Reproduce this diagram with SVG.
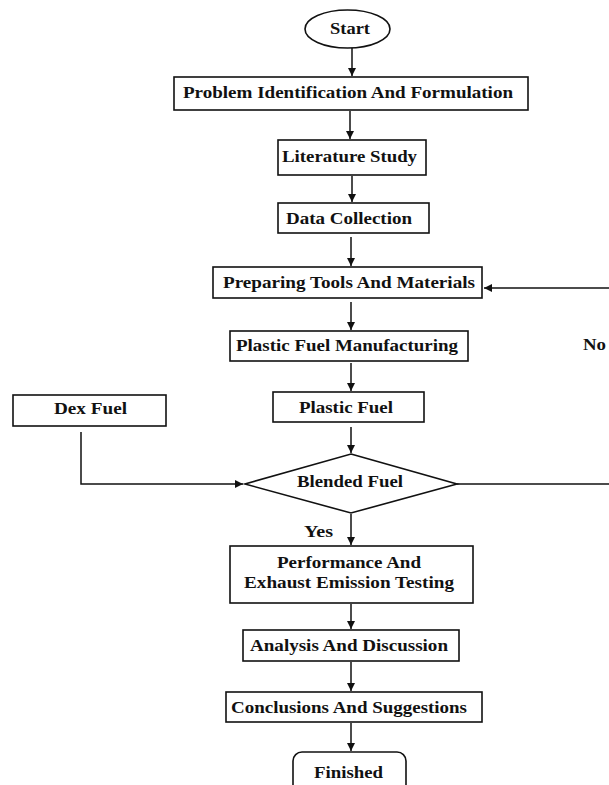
<svg xmlns="http://www.w3.org/2000/svg" width="609" height="785" viewBox="0 0 609 785">
<style>
.n{fill:#fff;stroke:#111;stroke-width:1.6}
.t{font-family:"Liberation Serif","Times New Roman",serif;font-weight:bold;font-size:16px;fill:#111;text-anchor:middle}
.c{fill:none;stroke:#111;stroke-width:1.5}
</style>
<defs>
<marker id="ah" viewBox="0 0 10 10" refX="10" refY="5" markerWidth="8" markerHeight="8" markerUnits="userSpaceOnUse" orient="auto">
<path d="M0,0 L10,5 L0,10 z" fill="#111"/>
</marker>
</defs>
<rect width="609" height="785" fill="#fff"/>
<g id="connectors">
<line class="c" x1="352" y1="48" x2="352" y2="76" marker-end="url(#ah)"/>
<line class="c" x1="350" y1="111" x2="350" y2="139" marker-end="url(#ah)"/>
<line class="c" x1="352" y1="176" x2="352" y2="202" marker-end="url(#ah)"/>
<line class="c" x1="351" y1="237" x2="351" y2="266" marker-end="url(#ah)"/>
<line class="c" x1="609" y1="288" x2="484" y2="288" marker-end="url(#ah)"/>
<line class="c" x1="351" y1="302" x2="351" y2="330" marker-end="url(#ah)"/>
<line class="c" x1="351" y1="363" x2="351" y2="391" marker-end="url(#ah)"/>
<line class="c" x1="351" y1="427" x2="351" y2="453" marker-end="url(#ah)"/>
<polyline class="c" points="81,432 81,484 243,484" marker-end="url(#ah)"/>
<line class="c" x1="457" y1="484" x2="609" y2="484"/>
<line class="c" x1="351" y1="514" x2="351" y2="545" marker-end="url(#ah)"/>
<line class="c" x1="351" y1="604" x2="351" y2="629" marker-end="url(#ah)"/>
<line class="c" x1="351" y1="662" x2="351" y2="691" marker-end="url(#ah)"/>
<line class="c" x1="351" y1="723" x2="351" y2="751" marker-end="url(#ah)"/>
<text class="t" x="594.5" y="350" textLength="23" lengthAdjust="spacingAndGlyphs">No</text>
<text class="t" x="318.5" y="537" textLength="29" lengthAdjust="spacingAndGlyphs">Yes</text>
</g>
<g id="start">
<ellipse class="n" cx="347.5" cy="29" rx="42.5" ry="19"/>
<text class="t" x="350" y="34" textLength="40" lengthAdjust="spacingAndGlyphs">Start</text>
</g>
<g id="problem">
<rect class="n" x="174" y="77" width="354" height="33"/>
<text class="t" x="348" y="98" textLength="330" lengthAdjust="spacingAndGlyphs">Problem Identification And Formulation</text>
</g>
<g id="literature">
<rect class="n" x="278" y="140" width="148" height="35"/>
<text class="t" x="349.5" y="162" textLength="135" lengthAdjust="spacingAndGlyphs">Literature Study</text>
</g>
<g id="data">
<rect class="n" x="278" y="203" width="151" height="30"/>
<text class="t" x="349" y="224" textLength="126" lengthAdjust="spacingAndGlyphs">Data Collection</text>
</g>
<g id="preparing">
<rect class="n" x="213" y="267" width="269" height="31"/>
<text class="t" x="349" y="288" textLength="252" lengthAdjust="spacingAndGlyphs">Preparing Tools And Materials</text>
</g>
<g id="manufacturing">
<rect class="n" x="230" y="331" width="238" height="30"/>
<text class="t" x="347" y="351" textLength="222" lengthAdjust="spacingAndGlyphs">Plastic Fuel Manufacturing</text>
</g>
<g id="plasticfuel">
<rect class="n" x="273" y="392" width="151" height="30"/>
<text class="t" x="346" y="413" textLength="94" lengthAdjust="spacingAndGlyphs">Plastic Fuel</text>
</g>
<g id="dexfuel">
<rect class="n" x="13" y="395" width="153" height="31"/>
<text class="t" x="90.5" y="414" textLength="73" lengthAdjust="spacingAndGlyphs">Dex Fuel</text>
</g>
<g id="blended">
<polygon class="n" points="351,454 457,484 351,513 245,484"/>
<text class="t" x="350" y="487" textLength="106" lengthAdjust="spacingAndGlyphs">Blended Fuel</text>
</g>
<g id="testing">
<rect class="n" x="230" y="546" width="243" height="57"/>
<text class="t" x="349" y="568" textLength="144" lengthAdjust="spacingAndGlyphs">Performance And</text>
<text class="t" x="349" y="588" textLength="210" lengthAdjust="spacingAndGlyphs">Exhaust Emission Testing</text>
</g>
<g id="analysis">
<rect class="n" x="243" y="630" width="216" height="31"/>
<text class="t" x="349" y="651" textLength="198" lengthAdjust="spacingAndGlyphs">Analysis And Discussion</text>
</g>
<g id="conclusions">
<rect class="n" x="226" y="692" width="256" height="30"/>
<text class="t" x="349" y="713" textLength="236" lengthAdjust="spacingAndGlyphs">Conclusions And Suggestions</text>
</g>
<g id="finished">
<rect class="n" x="293" y="752" width="113" height="45" rx="9"/>
<text class="t" x="348.5" y="778" textLength="69" lengthAdjust="spacingAndGlyphs">Finished</text>
</g>
</svg>
